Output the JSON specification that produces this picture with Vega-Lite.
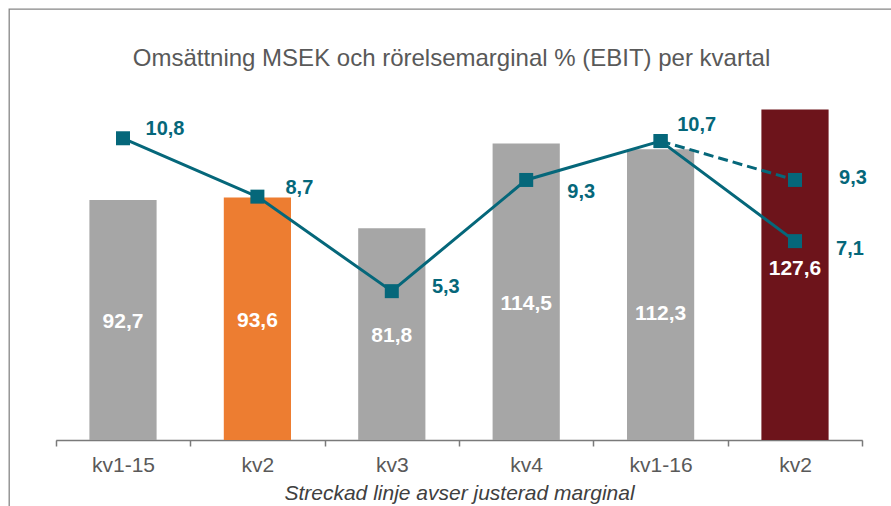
{
  "$schema": "https://vega.github.io/schema/vega-lite/v6.json",
  "width": 885,
  "height": 510,
  "autosize": {"type": "none"},
  "padding": {"left": 9, "top": 9, "right": 0, "bottom": 0},
  "config": {
    "font": "Liberation Sans",
    "view": {"stroke": "#868686", "strokeWidth": 1.3},
    "locale": {"number": {"decimal": ",", "thousands": " ", "grouping": [3], "currency": ["", " kr"]}}
  },
  "title": {
    "text": "Omsättning MSEK och rörelsemarginal % (EBIT) per kvartal",
    "font": "Liberation Sans",
    "fontSize": 24,
    "fontWeight": "normal",
    "color": "#595959",
    "anchor": "middle",
    "frame": "group",
    "baseline": "alphabetic",
    "offset": -81
  },
  "datasets": {
    "bars": [
      {"kvartal": "kv1-15", "oms": 92.7},
      {"kvartal": "kv2-15", "oms": 93.6},
      {"kvartal": "kv3", "oms": 81.8},
      {"kvartal": "kv4", "oms": 114.5},
      {"kvartal": "kv1-16", "oms": 112.3},
      {"kvartal": "kv2-16", "oms": 127.6}
    ],
    "ebit": [
      {"kvartal": "kv1-15", "serie": "rapporterad", "ebit": 10.8},
      {"kvartal": "kv2-15", "serie": "rapporterad", "ebit": 8.7},
      {"kvartal": "kv3", "serie": "rapporterad", "ebit": 5.3},
      {"kvartal": "kv4", "serie": "rapporterad", "ebit": 9.3},
      {"kvartal": "kv1-16", "serie": "rapporterad", "ebit": 10.7},
      {"kvartal": "kv2-16", "serie": "rapporterad", "ebit": 7.1},
      {"kvartal": "kv1-16", "serie": "justerad", "ebit": 10.7},
      {"kvartal": "kv2-16", "serie": "justerad", "ebit": 9.3}
    ]
  },
  "encoding": {
    "x": {
      "field": "kvartal",
      "type": "nominal",
      "sort": ["kv1-15", "kv2-15", "kv3", "kv4", "kv1-16", "kv2-16"],
      "scale": {"range": [46.8, 853.2], "paddingInner": 0, "paddingOuter": 0},
      "axis": {
        "orient": "bottom",
        "offset": -79,
        "title": "Streckad linje avser justerad marginal",
        "titleFont": "Liberation Sans",
        "titleFontSize": 21,
        "titleFontStyle": "italic",
        "titleFontWeight": "normal",
        "titleColor": "#404040",
        "titlePadding": 7,
        "labelExpr": "datum.value == 'kv2-15' || datum.value == 'kv2-16' ? 'kv2' : datum.value",
        "labelFont": "Liberation Sans",
        "labelFontSize": 21,
        "labelColor": "#595959",
        "labelPadding": 8,
        "labelAngle": 0,
        "tickBand": "extent",
        "tickSize": 6,
        "tickWidth": 1.5,
        "tickColor": "#7a7a7a",
        "domainColor": "#7a7a7a",
        "domainWidth": 1.5,
        "grid": false
      }
    }
  },
  "layer": [
    {
      "data": {"name": "bars"},
      "mark": {"type": "bar", "width": {"band": 0.5}},
      "encoding": {
        "y": {"field": "oms", "type": "quantitative", "scale": {"domain": [-30.5, 166.41], "nice": false, "zero": false}, "axis": null},
        "color": {
          "field": "kvartal",
          "type": "nominal",
          "scale": {"domain": ["kv1-15", "kv2-15", "kv3", "kv4", "kv1-16", "kv2-16"], "range": ["#A6A6A6", "#ED7D31", "#A6A6A6", "#A6A6A6", "#A6A6A6", "#6D141B"]},
          "legend": null
        }
      }
    },
    {
      "data": {"name": "bars"},
      "transform": [{"filter": "indexof(['kv1-15','kv2-15','kv3'], datum.kvartal) >= 0"}],
      "mark": {"type": "text", "font": "Liberation Sans", "fontSize": 21, "fontWeight": "bold", "color": "white", "baseline": "middle", "align": "center", "dy": 2},
      "encoding": {
        "y": {"field": "oms", "type": "quantitative", "scale": {"domain": [-61.0, 332.82], "nice": false, "zero": false}, "axis": null},
        "text": {"field": "oms", "type": "quantitative", "format": ".1f"}
      }
    },
    {
      "data": {"name": "bars"},
      "transform": [{"filter": "datum.kvartal == 'kv4'"}],
      "mark": {"type": "text", "font": "Liberation Sans", "fontSize": 21, "fontWeight": "bold", "color": "white", "baseline": "middle", "align": "center", "dy": 12},
      "encoding": {
        "y": {"field": "oms", "type": "quantitative", "scale": {"domain": [-61.0, 332.82], "nice": false, "zero": false}, "axis": null},
        "text": {"field": "oms", "type": "quantitative", "format": ".1f"}
      }
    },
    {
      "data": {"name": "bars"},
      "transform": [{"filter": "datum.kvartal == 'kv1-16'"}],
      "mark": {"type": "text", "font": "Liberation Sans", "fontSize": 21, "fontWeight": "bold", "color": "white", "baseline": "middle", "align": "center", "dy": 19},
      "encoding": {
        "y": {"field": "oms", "type": "quantitative", "scale": {"domain": [-61.0, 332.82], "nice": false, "zero": false}, "axis": null},
        "text": {"field": "oms", "type": "quantitative", "format": ".1f"}
      }
    },
    {
      "data": {"name": "bars"},
      "transform": [{"filter": "datum.kvartal == 'kv2-16'"}],
      "mark": {"type": "text", "font": "Liberation Sans", "fontSize": 21, "fontWeight": "bold", "color": "white", "baseline": "middle", "align": "center", "dy": -6},
      "encoding": {
        "y": {"field": "oms", "type": "quantitative", "scale": {"domain": [-61.0, 332.82], "nice": false, "zero": false}, "axis": null},
        "text": {"field": "oms", "type": "quantitative", "format": ".1f"}
      }
    },
    {
      "data": {"name": "ebit"},
      "transform": [{"filter": "datum.serie == 'justerad'"}],
      "mark": {"type": "line", "color": "#05677A", "strokeWidth": 3, "strokeDash": [10, 5]},
      "encoding": {
        "y": {"field": "ebit", "type": "quantitative", "scale": {"domain": [-2.896, 15.45], "nice": false, "zero": false}, "axis": null}
      }
    },
    {
      "data": {"name": "ebit"},
      "transform": [{"filter": "datum.serie == 'rapporterad'"}],
      "mark": {"type": "line", "color": "#05677A", "strokeWidth": 3},
      "encoding": {
        "y": {"field": "ebit", "type": "quantitative", "scale": {"domain": [-2.896, 15.45], "nice": false, "zero": false}, "axis": null}
      }
    },
    {
      "data": {"name": "ebit"},
      "mark": {"type": "point", "shape": "square", "filled": true, "opacity": 1, "size": 196, "color": "#05677A"},
      "encoding": {
        "y": {"field": "ebit", "type": "quantitative", "scale": {"domain": [-2.896, 15.45], "nice": false, "zero": false}, "axis": null}
      }
    },
    {
      "data": {"name": "ebit"},
      "transform": [{"filter": "datum.serie == 'rapporterad' && (datum.kvartal == 'kv1-15' || datum.kvartal == 'kv2-15')"}],
      "mark": {"type": "text", "font": "Liberation Sans", "fontSize": 20, "fontWeight": "bold", "color": "#05677A", "baseline": "middle", "align": "center", "dx": 42, "dy": -9},
      "encoding": {
        "y": {"field": "ebit", "type": "quantitative", "scale": {"domain": [-2.896, 15.45], "nice": false, "zero": false}, "axis": null},
        "text": {"field": "ebit", "type": "quantitative", "format": ".1f"}
      }
    },
    {
      "data": {"name": "ebit"},
      "transform": [{"filter": "datum.serie == 'rapporterad' && datum.kvartal == 'kv3'"}],
      "mark": {"type": "text", "font": "Liberation Sans", "fontSize": 20, "fontWeight": "bold", "color": "#05677A", "baseline": "middle", "align": "center", "dx": 54, "dy": -4},
      "encoding": {
        "y": {"field": "ebit", "type": "quantitative", "scale": {"domain": [-2.896, 15.45], "nice": false, "zero": false}, "axis": null},
        "text": {"field": "ebit", "type": "quantitative", "format": ".1f"}
      }
    },
    {
      "data": {"name": "ebit"},
      "transform": [{"filter": "datum.serie == 'rapporterad' && datum.kvartal == 'kv4'"}],
      "mark": {"type": "text", "font": "Liberation Sans", "fontSize": 20, "fontWeight": "bold", "color": "#05677A", "baseline": "middle", "align": "center", "dx": 55, "dy": 12},
      "encoding": {
        "y": {"field": "ebit", "type": "quantitative", "scale": {"domain": [-2.896, 15.45], "nice": false, "zero": false}, "axis": null},
        "text": {"field": "ebit", "type": "quantitative", "format": ".1f"}
      }
    },
    {
      "data": {"name": "ebit"},
      "transform": [{"filter": "datum.serie == 'rapporterad' && datum.kvartal == 'kv1-16'"}],
      "mark": {"type": "text", "font": "Liberation Sans", "fontSize": 20, "fontWeight": "bold", "color": "#05677A", "baseline": "middle", "align": "center", "dx": 36, "dy": -16},
      "encoding": {
        "y": {"field": "ebit", "type": "quantitative", "scale": {"domain": [-2.896, 15.45], "nice": false, "zero": false}, "axis": null},
        "text": {"field": "ebit", "type": "quantitative", "format": ".1f"}
      }
    },
    {
      "data": {"name": "ebit"},
      "transform": [{"filter": "datum.serie == 'rapporterad' && datum.kvartal == 'kv2-16'"}],
      "mark": {"type": "text", "font": "Liberation Sans", "fontSize": 20, "fontWeight": "bold", "color": "#05677A", "baseline": "middle", "align": "center", "dx": 55, "dy": 8},
      "encoding": {
        "y": {"field": "ebit", "type": "quantitative", "scale": {"domain": [-2.896, 15.45], "nice": false, "zero": false}, "axis": null},
        "text": {"field": "ebit", "type": "quantitative", "format": ".1f"}
      }
    },
    {
      "data": {"name": "ebit"},
      "transform": [{"filter": "datum.serie == 'justerad' && datum.kvartal == 'kv2-16'"}],
      "mark": {"type": "text", "font": "Liberation Sans", "fontSize": 20, "fontWeight": "bold", "color": "#05677A", "baseline": "middle", "align": "center", "dx": 58, "dy": -2},
      "encoding": {
        "y": {"field": "ebit", "type": "quantitative", "scale": {"domain": [-2.896, 15.45], "nice": false, "zero": false}, "axis": null},
        "text": {"field": "ebit", "type": "quantitative", "format": ".1f"}
      }
    }
  ],
  "resolve": {"scale": {"y": "independent"}}
}
